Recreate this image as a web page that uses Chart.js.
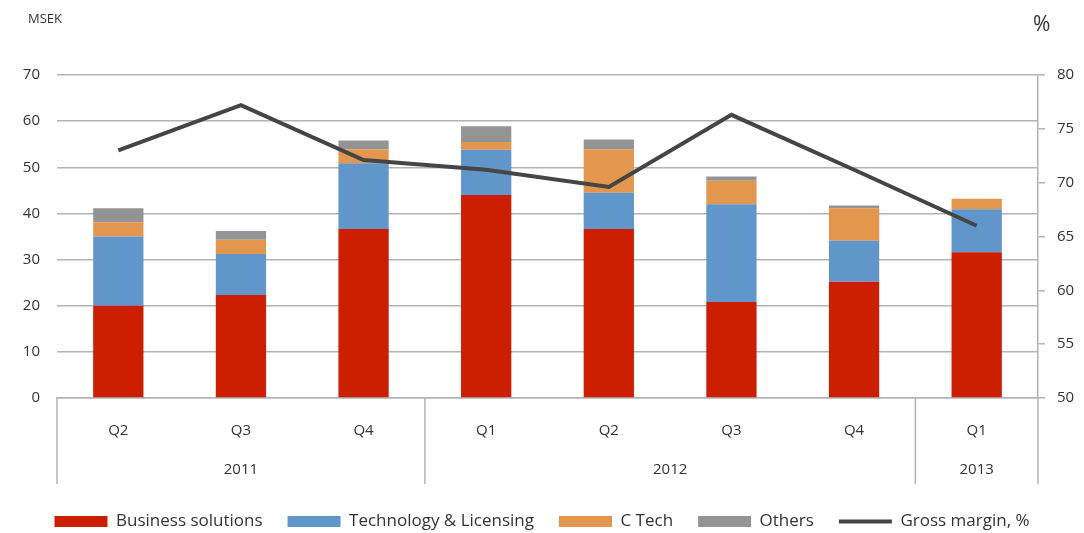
<!DOCTYPE html>
<html>
<head>
<meta charset="utf-8">
<script src="https://cdn.jsdelivr.net/npm/chart.js@4.4.1/dist/chart.umd.min.js"></script>
<style>
  html, body { margin: 0; padding: 0; background: #ffffff; }
  #wrap { position: relative; width: 1084px; height: 533px; overflow: hidden; }
  #c { position: absolute; left: 0; top: 0; }
  .lbl { position: absolute; font-family: "Open Sans", sans-serif; color: #333; white-space: nowrap; }
</style>
</head>
<body>
<div id="wrap">
  <canvas id="c" width="1084" height="533"></canvas>
  <div class="lbl" style="left:28px; top:9px; font-size:13px;">MSEK</div>
  <div class="lbl" style="left:1033px; top:9px; font-size:21px;">%</div>
</div>
<script>
const quarters = ['Q2', 'Q3', 'Q4', 'Q1', 'Q2', 'Q3', 'Q4', 'Q1'];
const years = ['2011', '2012', '2013'];
const yearSpans = [3, 4, 1];
const businessSolutions = [20.0, 22.3, 36.6, 44.0, 36.6, 20.8, 25.2, 31.6];
const techLicensing = [15.0, 8.9, 14.3, 9.8, 7.9, 21.2, 8.9, 9.3];
const cTech = [3.1, 3.1, 3.0, 1.7, 9.4, 5.1, 7.0, 2.3];
const others = [3.0, 1.9, 1.9, 3.4, 2.1, 0.9, 0.6, 0];
const grossMargin = [73.0, 77.2, 72.1, 71.2, 69.6, 76.3, 71.2, 66.0];
const leftTicks = [0, 10, 20, 30, 40, 50, 60, 70];
const rightTicks = [50, 55, 60, 65, 70, 75, 80];

const FONT = '"Open Sans", sans-serif';
const GRID = '#b3b3b3';
const TXT = '#333333';

const yearPlugin = {
  id: 'yearGroups',
  afterDraw(chart) {
    const ctx = chart.ctx;
    const x = chart.scales.x;
    const area = chart.chartArea;
    const step = (x.getPixelForValue(1) - x.getPixelForValue(0));
    const top = area.bottom;
    const bottom = area.bottom + 86;
    ctx.save();
    ctx.strokeStyle = GRID;
    ctx.lineWidth = 1.5;
    let idx = 0;
    const bounds = [x.getPixelForValue(0) - step / 2];
    years.forEach((y, i) => {
      idx += yearSpans[i];
      bounds.push(x.getPixelForValue(idx - 1) + step / 2);
    });
    bounds.forEach(b => {
      ctx.beginPath();
      ctx.moveTo(b, top);
      ctx.lineTo(b, bottom);
      ctx.stroke();
    });
    ctx.fillStyle = TXT;
    ctx.font = '15px ' + FONT;
    ctx.textAlign = 'center';
    ctx.textBaseline = 'middle';
    years.forEach((y, i) => {
      ctx.fillText(y, (bounds[i] + bounds[i + 1]) / 2, area.bottom + 72);
    });
    ctx.restore();
  }
};

const barCommon = { stack: 's', yAxisID: 'y', order: 1, barPercentage: 0.41, categoryPercentage: 1.0, borderWidth: 0, pointStyle: 'rect' };

new Chart(document.getElementById('c'), {
  type: 'bar',
  data: {
    labels: quarters,
    datasets: [
      Object.assign({ label: 'Business solutions', data: businessSolutions, backgroundColor: '#cc1e00' }, barCommon),
      Object.assign({ label: 'Technology & Licensing', data: techLicensing, backgroundColor: '#6096c9' }, barCommon),
      Object.assign({ label: 'C Tech', data: cTech, backgroundColor: '#e3964d' }, barCommon),
      Object.assign({ label: 'Others', data: others, backgroundColor: '#949494' }, barCommon),
      { type: 'line', label: 'Gross margin, %', data: grossMargin, yAxisID: 'y1', order: 0,
        borderColor: '#454545', backgroundColor: '#454545', borderWidth: 4, pointRadius: 0,
        pointStyle: 'line', tension: 0, fill: false }
    ]
  },
  options: {
    responsive: false,
    animation: false,
    layout: { padding: { top: 75, left: 0, right: 0, bottom: -7 } },
    plugins: {
      legend: {
        position: 'bottom',
        labels: {
          usePointStyle: true, pointStyleWidth: 53, boxHeight: 11,
          font: { family: FONT, size: 17 }, color: TXT, padding: 25,
          sort: (a, b) => a.datasetIndex - b.datasetIndex
        }
      },
      tooltip: { enabled: false }
    },
    scales: {
      x: {
        stacked: true,
        grid: { display: false, drawTicks: false },
        border: { display: true, color: GRID, width: 1.5 },
        ticks: { font: { family: FONT, size: 15 }, color: TXT, padding: 24 },
        afterFit(s) { s.height = 90; }
      },
      y: {
        stacked: true, position: 'left', min: 0, max: 70,
        afterBuildTicks(s) { s.ticks = leftTicks.map(v => ({ value: v })); },
        grid: { color: GRID, lineWidth: 1.5, drawTicks: false },
        border: { display: false },
        ticks: { font: { family: FONT, size: 15 }, color: TXT, padding: 17 },
        afterFit(s) { s.width = 57; }
      },
      y1: {
        position: 'right', min: 50, max: 80,
        afterBuildTicks(s) { s.ticks = rightTicks.map(v => ({ value: v })); },
        grid: { drawOnChartArea: false, color: GRID, lineWidth: 1.5, tickLength: 7 },
        border: { display: true, color: GRID, width: 1.5 },
        ticks: { font: { family: FONT, size: 15 }, color: TXT, padding: 12 },
        afterFit(s) { s.width = 46; }
      }
    }
  },
  plugins: [yearPlugin]
});
</script>
</body>
</html>
